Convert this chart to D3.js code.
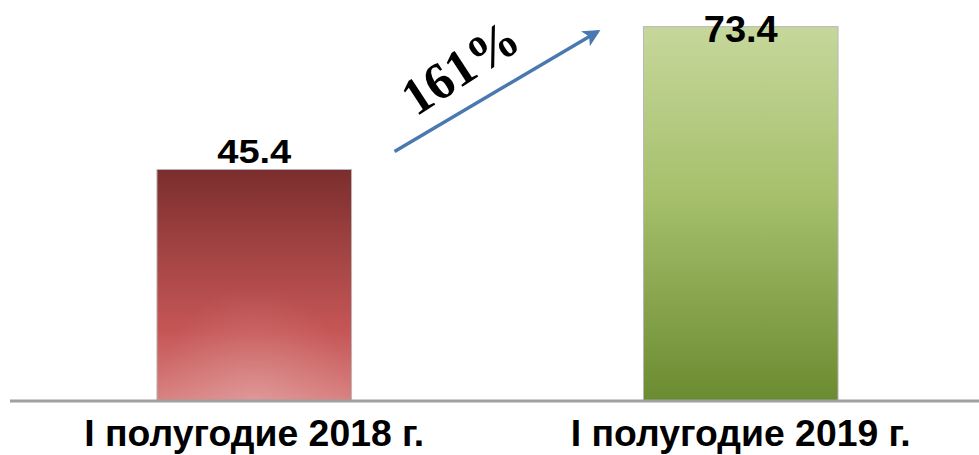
<!DOCTYPE html>
<html lang="ru">
<head>
  <meta charset="UTF-8">
  <title>Полугодие</title>
  <script src="https://cdn.jsdelivr.net/npm/d3@7"></script>
  <style>
    body { margin: 0; background: #fff; }
    #grafica { width: 979px; height: 455px; }
  </style>
</head>
<body>
<div id="grafica"></div>
<script>
// данные
categorias = ['I полугодие 2018 г.', 'I полугодие 2019 г.']
valores = [45.4, 73.4]
etiquetas = ['45.4', '73.4']
crecimiento = '161%'

ancho_total = 979
alto_total = 455
base = 401

svg = d3.select('#grafica')
  .append('svg')
  .attr('width', ancho_total)
  .attr('height', alto_total)

defs = svg.append('defs')

g1 = defs.append('linearGradient').attr('id', 'rojo')
  .attr('x1', 0).attr('y1', 0).attr('x2', 0).attr('y2', 1)
g1.append('stop').attr('offset', '0%').attr('stop-color', '#7b2d2d')
g1.append('stop').attr('offset', '35%').attr('stop-color', '#a24343')
g1.append('stop').attr('offset', '70%').attr('stop-color', '#c65656')
g1.append('stop').attr('offset', '100%').attr('stop-color', '#d98282')

g2 = defs.append('linearGradient').attr('id', 'verde')
  .attr('x1', 0).attr('y1', 0).attr('x2', 0).attr('y2', 1)
g2.append('stop').attr('offset', '0%').attr('stop-color', '#c6d79b')
g2.append('stop').attr('offset', '45%').attr('stop-color', '#a6c06c')
g2.append('stop').attr('offset', '100%').attr('stop-color', '#6b8b30')

brillo = defs.append('radialGradient').attr('id', 'brillo')
  .attr('cx', 0.5).attr('cy', 1).attr('r', 0.5)
brillo.append('stop').attr('offset', '0%').attr('stop-color', '#fff').attr('stop-opacity', 0.18)
brillo.append('stop').attr('offset', '100%').attr('stop-color', '#fff').attr('stop-opacity', 0)

defs.append('marker').attr('id', 'flecha')
  .attr('viewBox', '0 0 10 10')
  .attr('refX', 8).attr('refY', 5)
  .attr('markerWidth', 5).attr('markerHeight', 5)
  .attr('orient', 'auto')
  .append('path')
  .attr('d', 'M0,0 L10,5 L0,10 L2.5,5 Z')
  .attr('fill', '#4a78b0')

x = d3.scaleBand()
  .domain(categorias)
  .range([11, 984])
  .paddingInner(0.6)
  .paddingOuter(0.3)

y = d3.scaleLinear()
  .domain([0, 80])
  .range([base, base - 5.1 * 80])

rellenos = ['url(#rojo)', 'url(#verde)']

barras = svg.selectAll('g.barra')
  .data(categorias)
  .enter()
  .append('g')
  .attr('class', 'barra')

barras.append('rect')
  .attr('x', (d) => x(d))
  .attr('y', (d, i) => y(valores[i]))
  .attr('width', x.bandwidth())
  .attr('height', (d, i) => base - y(valores[i]))
  .attr('fill', (d, i) => rellenos[i])
  .attr('stroke', '#b8b8b8')
  .attr('stroke-width', 1)

barras.filter((d, i) => i == 0)
  .append('rect')
  .attr('x', (d) => x(d))
  .attr('y', (d, i) => y(valores[0]))
  .attr('width', x.bandwidth())
  .attr('height', base - y(valores[0]))
  .attr('fill', 'url(#brillo)')

// eje
xAxisCall = d3.axisBottom(x).tickSize(0).tickPadding(0)
eje = svg.append('g')
  .attr('transform', `translate(0, ${base})`)
  .call(xAxisCall)
eje.select('.domain')
  .attr('d', 'M10,0H979')
  .attr('stroke', '#a0a0a0')
  .attr('stroke-width', 3)
eje.selectAll('text')
  .attr('y', 45)
  .attr('dy', 0)
  .attr('fill', '#000')
  .style('font-family', '"Liberation Sans", Arial, sans-serif')
  .style('font-weight', 'bold')
  .style('font-size', '36px')
  .attr('textLength', 340)
  .attr('lengthAdjust', 'spacingAndGlyphs')

// valores
tamanos = [34, 37]
svg.selectAll('text.valor')
  .data(categorias)
  .enter()
  .append('text')
  .attr('class', 'valor')
  .attr('x', (d) => x(d) + x.bandwidth() / 2)
  .attr('y', (d, i) => i == 0 ? y(valores[i]) - 6 : y(valores[i]) + 15)
  .attr('text-anchor', 'middle')
  .style('font-family', '"Liberation Sans", Arial, sans-serif')
  .style('font-weight', 'bold')
  .style('font-size', (d, i) => tamanos[i] + 'px')
  .attr('textLength', 74)
  .attr('lengthAdjust', 'spacingAndGlyphs')
  .text((d, i) => etiquetas[i])

// flecha de crecimiento
x0 = x(categorias[0]) + x.bandwidth() + 43
x1 = x(categorias[1]) - 46
y0 = y(valores[0]) - 18
y1 = y(valores[1]) + 5
svg.append('line')
  .attr('x1', x0).attr('y1', y0)
  .attr('x2', x1).attr('y2', y1)
  .attr('stroke', '#4a78b0')
  .attr('stroke-width', 3.5)
  .attr('marker-end', 'url(#flecha)')

svg.append('text')
  .attr('transform', 'translate(416,117) rotate(-33)')
  .style('font-family', '"Liberation Serif", "Times New Roman", serif')
  .style('font-weight', 'bold')
  .style('font-size', '52px')
  .attr('textLength', 128)
  .attr('lengthAdjust', 'spacingAndGlyphs')
  .text(crecimiento)
</script>
</body>
</html>
